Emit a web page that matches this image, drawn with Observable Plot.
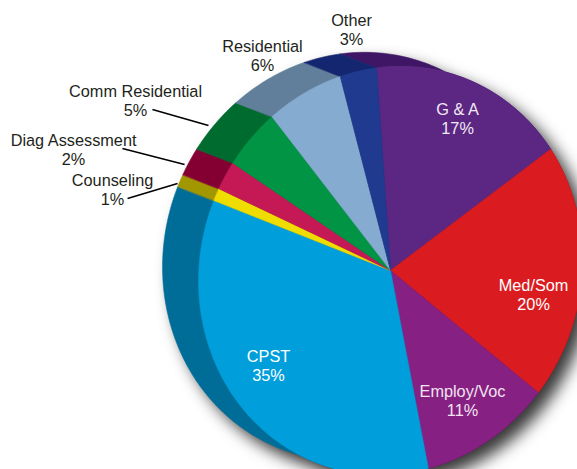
<!DOCTYPE html>
<html>
<head>
<meta charset="utf-8">
<script src="https://cdn.jsdelivr.net/npm/d3@7"></script>
<script src="https://cdn.jsdelivr.net/npm/@observablehq/plot@0.6"></script>
<style>
html,body{margin:0;padding:0;background:#fff;}
</style>
</head>
<body>
<div id="chart"></div>
<script>
// Clockwise from the top of the pie
const categories = ["G & A","Med/Som","Employ/Voc","CPST","Counseling","Diag Assessment","Comm Residential","Residential","Other"];
const printedPercent = [17,20,11,35,1,2,5,6,3];
// Share of the circle actually occupied by each slice
const arcShare = [15.8,21.3,11.0,34.0,1.08,2.44,5.03,6.42,2.92];
const faceColors = ["#5c2683","#da1c20","#862082","#009fdc","#efdc00","#c51956","#009444","#86abd0","#1f3a8f"];
const wallColors = ["#3f1666","#9a1416","#5e1660","#006d99","#a39700","#840033","#006b2f","#617f9b","#13266f"];
const textColors = ["#f1eaf5","#fff","#f1e4f1","#fff","#231f20","#231f20","#231f20","#231f20","#231f20"];

// Label centres, in units of the pie radius
const labelX = [.353,.753,.379,-.642,-1.463,-1.668,-1.342,-.674,-.205];
const labelY = [.800,-.126,-.684,-.500,.426,.637,.895,1.132,1.268];
// Leader lines: the three small left-hand slices
const leaderCategories = ["Comm Residential","Diag Assessment","Counseling"];
const leaderX1 = [-1.253,-1.411,-1.384];
const leaderY1 = [.847,.642,.379];
const leaderX2 = [-.958,-1.084,-1.121];
const leaderY2 = [.763,.558,.458];

const startAngle = -4;               // degrees clockwise from the top
const depth = {x:-.1895, y:.0737};   // extrusion of the pie wall
const shadowShift = {x:.05, y:-.05};
const tilt = {major:206/190, minor:1, angle:20}; // the face is a slightly tilted ellipse

const rad = d => d * Math.PI / 180;
const edges = [startAngle];
arcShare.forEach(v => edges.push(edges[edges.length-1] + v * 3.6));
const total = d3.sum(arcShare);
edges.forEach((_, i) => edges[i] = startAngle + (edges[i]-startAngle) * 100 / total);

const rimPoint = a => {
  const t = rad(a - tilt.angle);
  const r = 1 / Math.sqrt((Math.cos(t)/tilt.major)**2 + (Math.sin(t)/tilt.minor)**2);
  return {x: r * Math.sin(rad(a)), y: r * Math.cos(rad(a))};
};
const arcPts = (a0, a1) => {
  const n = Math.max(2, Math.ceil(a1 - a0) + 1), out = [];
  for (let k = 0; k < n; k++) out.push(a0 + (a1 - a0) * k / (n - 1));
  return out;
};
const faces = [], walls = [];
categories.forEach((name, i) => {
  const arc = arcPts(edges[i], edges[i+1]).map(rimPoint);
  faces.push({name, color: faceColors[i], x: 0, y: 0});
  arc.forEach(p => faces.push({name, color: faceColors[i], x: p.x, y: p.y}));
  arc.forEach(p => walls.push({name, color: wallColors[i], x: p.x, y: p.y}));
  arc.slice().reverse().forEach(p => walls.push({name, color: wallColors[i], x: p.x + depth.x, y: p.y + depth.y}));
});
const full = arcPts(0, 360).map(rimPoint);
const shadow = [];
full.forEach(p => shadow.push({z:"face", x: p.x + shadowShift.x, y: p.y + shadowShift.y}));
full.forEach(p => shadow.push({z:"wall", x: p.x + depth.x + shadowShift.x, y: p.y + depth.y + shadowShift.y}));

const labels = categories.map((name,i) => ({
  text: name + "\n" + printedPercent[i] + "%", x: labelX[i], y: labelY[i], color: textColors[i]
}));
const leaders = leaderCategories.map((name,i) => ({name, x1: leaderX1[i], y1: leaderY1[i], x2: leaderX2[i], y2: leaderY2[i]}));

const chart = Plot.plot({
  width: 577, height: 469, margin: 0,
  style: {background:"#fff", fontFamily:"'Liberation Sans', Arial, sans-serif"},
  x: {domain:[-1,1], range:[200,580], axis:null},
  y: {domain:[-1,1], range:[460,80], axis:null},
  color: {type:"identity"},
  marks: [
    Plot.line(shadow, {x:"x", y:"y", z:"z", fill:"#222", fillOpacity:.9, stroke:"none", curve:"linear-closed"}),
    Plot.line(walls, {x:"x", y:"y", z:"name", fill:"color", stroke:"color", strokeWidth:.6, curve:"linear-closed"}),
    Plot.line(faces, {x:"x", y:"y", z:"name", fill:"color", stroke:"color", strokeWidth:.6, curve:"linear-closed"}),
    Plot.link(leaders, {x1:"x1", y1:"y1", x2:"x2", y2:"y2", stroke:"#000", strokeWidth:1.5}),
    Plot.text(labels, {x:"x", y:"y", text:"text", fill:"color", fontSize:16.3, lineHeight:1.13})
  ]
});
chart.querySelector('g[aria-label="line"]').style.filter = "blur(8px)";
document.getElementById("chart").appendChild(chart);
</script>
</body>
</html>
